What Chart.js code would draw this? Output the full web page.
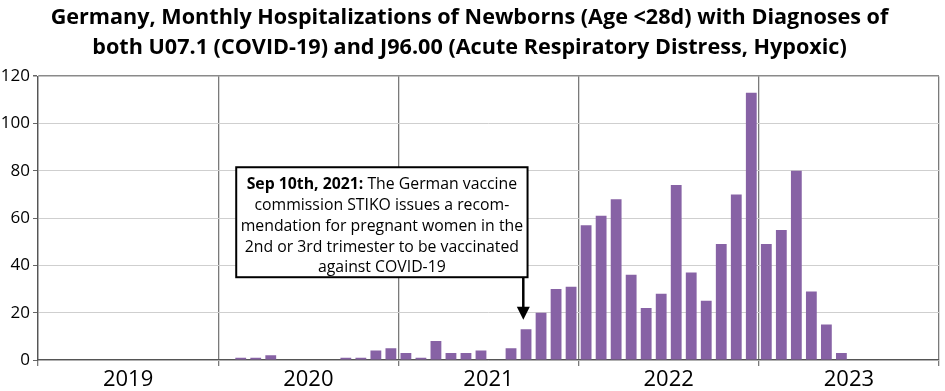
<!DOCTYPE html>
<html>
<head>
<meta charset="utf-8">
<script src="https://cdn.jsdelivr.net/npm/chart.js@4/dist/chart.umd.min.js"></script>
<style>
html,body{margin:0;padding:0;background:#fff;}
#wrap{width:945px;height:391px;position:relative;}
</style>
</head>
<body>
<div id="wrap"><canvas id="c" width="945" height="391"></canvas></div>
<script>
// ---- data ----
const years = ['2019', '2020', '2021', '2022', '2023'];
const months = [];
years.forEach(y => { for (let m = 1; m <= 12; m++) months.push(y + '-' + String(m).padStart(2, '0')); });
const hosp2019 = [0, 0, 0, 0, 0, 0, 0, 0, 0, 0, 0, 0];
const hosp2020 = [0, 1, 1, 2, 0, 0, 0, 0, 1, 1, 4, 5];
const hosp2021 = [3, 1, 8, 3, 3, 4, 0, 5, 13, 20, 30, 31];
const hosp2022 = [57, 61, 68, 36, 22, 28, 74, 37, 25, 49, 70, 113];
const hosp2023 = [49, 55, 80, 29, 15, 3, null, null, null, null, null, null];
const hospitalizations = [].concat(hosp2019, hosp2020, hosp2021, hosp2022, hosp2023);
const yTicks = [0, 20, 40, 60, 80, 100, 120];
const titleLines = ['Germany, Monthly Hospitalizations of Newborns (Age <28d) with Diagnoses of',
  'both U07.1 (COVID-19) and J96.00 (Acute Respiratory Distress, Hypoxic)'];
const noteBold = 'Sep 10th, 2021:';
const noteLines = [' The German vaccine', 'commission STIKO issues a recom-',
  'mendation for pregnant women in the', '2nd or 3rd trimester to be vaccinated', 'against COVID-19'];

// ---- annotation (in data units) ----
const note = {
  eventX: 32 + 9.5 / 30,   // Sep 10th, 2021 on month axis
  left: 13.2, right: 32.6, top: 81.5, bottom: 35, tip: 17
};

const FONT = "'Open Sans', 'Noto Sans', sans-serif";

const notePlugin = {
  id: 'note',
  afterDraw(chart) {
    const {ctx, scales: {x, y}} = chart;
    const L = x.getPixelForValue(note.left), R = x.getPixelForValue(note.right);
    const T = y.getPixelForValue(note.top), B = y.getPixelForValue(note.bottom);
    const ax = x.getPixelForValue(note.eventX), tip = y.getPixelForValue(note.tip);
    ctx.save();
    ctx.fillStyle = '#fff';
    ctx.fillRect(L, T, R - L, B - T);
    ctx.strokeStyle = '#000';
    ctx.lineWidth = 2;
    ctx.strokeRect(L, T, R - L, B - T);
    // arrow
    ctx.lineWidth = 2.5;
    ctx.beginPath();
    ctx.moveTo(ax, B);
    ctx.lineTo(ax, tip - 11);
    ctx.stroke();
    ctx.beginPath();
    ctx.moveTo(ax - 6.5, tip - 13);
    ctx.lineTo(ax + 6.5, tip - 13);
    ctx.lineTo(ax, tip);
    ctx.closePath();
    ctx.fillStyle = '#000';
    ctx.fill();
    // text
    const cx = (L + R) / 2;
    ctx.textBaseline = 'middle';
    ctx.fillStyle = '#000';
    const lh = 20.8, y0 = T + 17.5;
    const bFont = 'bold 15.8px ' + FONT, rFont = '15.8px ' + FONT;
    ctx.font = bFont; const wb = ctx.measureText(noteBold).width;
    ctx.font = rFont; const wr = ctx.measureText(noteLines[0]).width;
    let sx = cx - (wb + wr) / 2;
    ctx.textAlign = 'left';
    ctx.font = bFont; ctx.fillText(noteBold, sx, y0);
    ctx.font = rFont; ctx.fillText(noteLines[0], sx + wb, y0);
    ctx.textAlign = 'center';
    for (let i = 1; i < noteLines.length; i++) ctx.fillText(noteLines[i], cx, y0 + lh * i);
    ctx.restore();
  }
};

new Chart(document.getElementById('c'), {
  type: 'bar',
  data: {
    datasets: [{
      label: 'Hospitalizations',
      data: hospitalizations.map((v, i) => ({x: i + 0.5, y: v, m: months[i]})),
      backgroundColor: '#8762a5',
      borderWidth: 0,
      barPercentage: 0.9,
      categoryPercentage: 0.8
    }]
  },
  options: {
    responsive: false,
    animation: false,
    layout: {padding: {left: 0, right: 6, top: 0, bottom: 0}},
    plugins: {
      legend: {display: false},
      tooltip: {enabled: false},
      title: {
        display: true,
        text: titleLines,
        color: '#000',
        font: {family: FONT, size: 21.6, weight: 'bold', lineHeight: 1.37},
        padding: {top: 3, bottom: 14}
      }
    },
    scales: {
      x: {
        type: 'linear',
        min: 0, max: 60,
        offset: false,
        afterFit(s) { s.height = 31; },
        afterBuildTicks(s) { s.ticks = []; for (let v = 0; v <= 60; v += 6) s.ticks.push({value: v}); },
        ticks: {
          autoSkip: false, maxRotation: 0, padding: 1,
          color: '#000',
          font: {family: FONT, size: 22},
          callback: v => (v % 12 === 6 ? years[(v - 6) / 12] : '')
        },
        grid: {
          offset: false,
          color: c => (c.tick && c.tick.value % 12 === 0 ? '#7a7a7a' : 'rgba(0,0,0,0)'),
          lineWidth: 1.3,
          tickLength: 6
        },
        border: {color: '#555', width: 1.3}
      },
      y: {
        min: 0, max: 120,
        afterFit(s) { s.width = 38; },
        afterBuildTicks(s) { s.ticks = yTicks.map(v => ({value: v})); },
        ticks: {color: '#000', font: {family: FONT, size: 17}, padding: 3},
        grid: {
          color: c => (c.tick && c.tick.value === 120 ? '#8a8a8a' : '#cfcfcf'),
          lineWidth: c => (c.tick && c.tick.value === 120 ? 1.5 : 1),
          tickLength: 5,
          tickColor: '#666'
        },
        border: {color: '#555', width: 1.3}
      }
    }
  },
  plugins: [notePlugin]
});
</script>
</body>
</html>
